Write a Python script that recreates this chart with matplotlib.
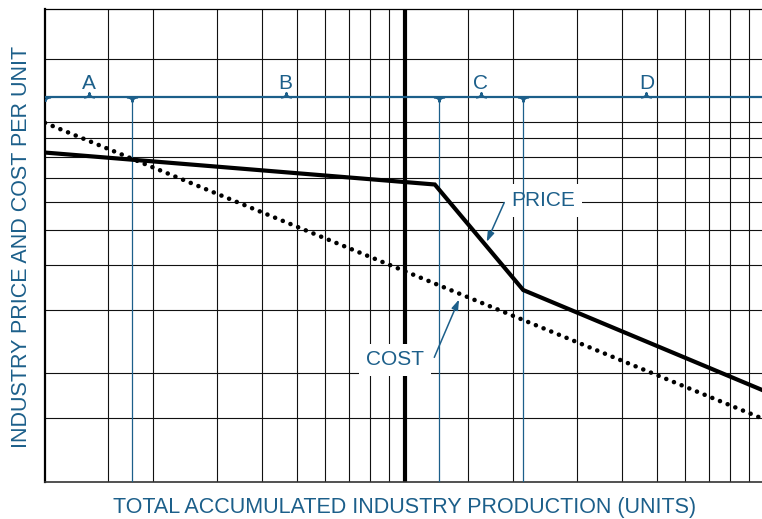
import numpy as np
import matplotlib.pyplot as plt
from matplotlib.path import Path

plt.rcParams['font.family'] = ['Liberation Sans', 'DejaVu Sans']

# grid lines of the log-log paper
x_grid = [1.5, 2, 3, 4, 5, 6, 7, 8, 9, 15, 20, 30, 40, 50, 60, 70, 80, 90]
y_grid = [1.5, 2, 3, 4, 5, 6, 7, 8, 9, 10, 15]

# curves
price_x = [1, 12.1, 21.3, 98]
price_y = [8.22, 6.70, 3.41, 1.80]
cost_x = [1, 98]
cost_y = [9.94, 1.50]

# phases A-D
phase_edges = [1, 1.75, 12.4, 21.3, 103]
phase_labels = ['A', 'B', 'C', 'D']
bracket_y = 11.7

blue = '#1c5f8a'

fig = plt.figure(figsize=(7.62, 5.19), dpi=100)
ax = fig.add_axes([45/762, 37.3/519, 1 - 45/762, 472.7/519])
ax.set_xscale('log')
ax.set_yscale('log')
ax.set_xlim(1, 98.1)
ax.set_ylim(1, 20.6)
ax.set_xticks([])
ax.set_yticks([])
ax.set_xticks([], minor=True)
ax.set_yticks([], minor=True)

for v in x_grid:
    ax.axvline(v, color='#111111', lw=0.8, zorder=1)
for v in y_grid:
    ax.axhline(v, color='#111111', lw=0.8, zorder=1)
ax.axvline(10, color='k', lw=3, zorder=1.5)

ax.spines['right'].set_visible(False)
ax.spines['left'].set_linewidth(1.6)
ax.spines['bottom'].set_linewidth(1.2)
ax.spines['bottom'].set_color('#333333')
ax.spines['top'].set_linewidth(0.9)

# bracket with curly tips
tip_up = Path([(-1, 0), (0, 0), (0, 0.8), (0, 0), (1, 0)],
              [Path.MOVETO, Path.CURVE3, Path.CURVE3, Path.CURVE3, Path.CURVE3])
tip_down = Path([(-1, 0), (0, 0), (0, -0.8), (0, 0), (1, 0)],
                [Path.MOVETO, Path.CURVE3, Path.CURVE3, Path.CURVE3, Path.CURVE3])
tip_start = Path([(0, -0.8), (0, 0), (1, 0)],
                 [Path.MOVETO, Path.CURVE3, Path.CURVE3])

ax.axhline(bracket_y, color=blue, lw=1.6, zorder=3)
inner = phase_edges[1:-1]
ax.vlines(inner, 1, bracket_y, color=blue, lw=0.9, zorder=3)
ax.plot(inner, [bracket_y]*len(inner), ls='none', marker=tip_down, ms=8,
        mec=blue, mfc='none', mew=1.6, zorder=3)
ax.plot([phase_edges[0]], [bracket_y], ls='none', marker=tip_start, ms=8,
        mec=blue, mfc='none', mew=1.6, zorder=3)
mids = np.sqrt(np.array(phase_edges[:-1]) * np.array(phase_edges[1:]))
ax.plot(mids, [bracket_y]*len(mids), ls='none', marker=tip_up, ms=8,
        mec=blue, mfc='none', mew=1.6, zorder=3)
for m, lab in zip(mids, phase_labels):
    ax.annotate(lab, xy=(m, bracket_y), xytext=(0, 6), textcoords='offset points',
                ha='center', va='baseline', fontsize=15, color=blue, zorder=3)

# curves
ax.plot(price_x, price_y, color='k', lw=3, zorder=4, solid_joinstyle='miter')
ax.plot(cost_x, cost_y, color='k', lw=3.3, ls=(0, (0.01, 1.8)),
        dash_capstyle='round', zorder=4)

# labels with arrows
ax.text(24.2, 6.06, 'PRICE', ha='center', va='center', fontsize=15, color=blue,
        zorder=2, bbox=dict(facecolor='white', edgecolor='none', pad=5))
ax.annotate('', xy=(16.86, 4.64), xytext=(18.87, 5.97),
            arrowprops=dict(arrowstyle='-|>,head_length=0.6,head_width=0.2',
                            color=blue, lw=1.1, mutation_scale=10,
                            shrinkA=0, shrinkB=0), zorder=3)
ax.text(9.37, 2.18, 'COST', ha='center', va='center', fontsize=15, color=blue,
        zorder=2, bbox=dict(facecolor='white', edgecolor='none', pad=5))
ax.annotate('', xy=(14.13, 3.21), xytext=(12.06, 2.216),
            arrowprops=dict(arrowstyle='-|>,head_length=0.6,head_width=0.2',
                            color=blue, lw=1.1, mutation_scale=10,
                            shrinkA=0, shrinkB=0), zorder=3)

fig.text(405/762, 1 - 507/519, 'TOTAL ACCUMULATED INDUSTRY PRODUCTION (UNITS)',
         ha='center', va='center', fontsize=15.5, color=blue)
fig.text(22/762, 1 - 247/519, 'INDUSTRY PRICE AND COST PER UNIT',
         ha='center', va='center', rotation=90, fontsize=15.5, color=blue)

fig.savefig('out.png', dpi=100)
